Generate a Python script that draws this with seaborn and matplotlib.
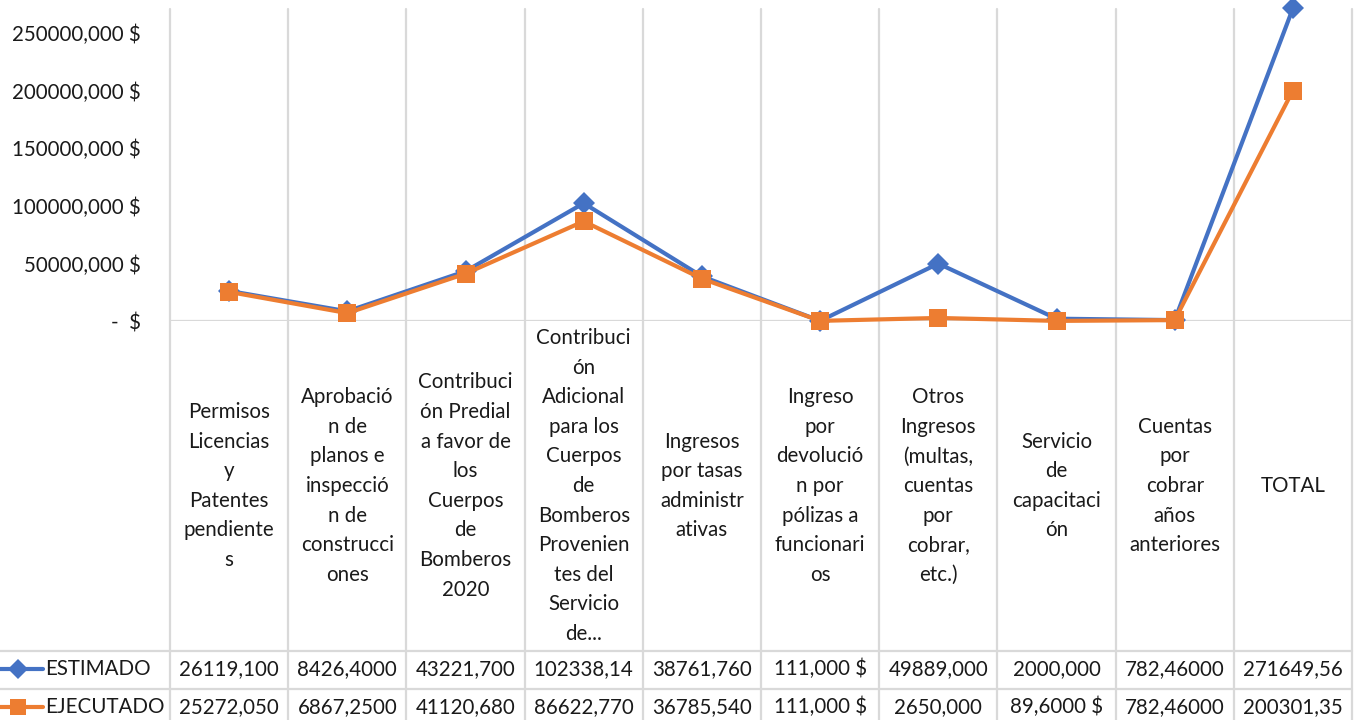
import numpy as np
import pandas as pd
import matplotlib
matplotlib.use("Agg")
import matplotlib.pyplot as plt
import matplotlib.transforms as mtransforms
import seaborn as sns

# datos del grafico
categorias = [
    "Permisos\nLicencias\ny\nPatentes\npendiente\ns",
    "Aprobació\nn de\nplanos e\ninspecció\nn de\nconstrucci\nones",
    "Contribuci\nón Predial\na favor de\nlos\nCuerpos\nde\nBomberos\n2020",
    "Contribuci\nón\nAdicional\npara los\nCuerpos\nde\nBomberos\nProvenien\ntes del\nServicio\nde...",
    "Ingresos\npor tasas\nadministr\nativas",
    "Ingreso\npor\ndevolució\nn por\npólizas a\nfuncionari\nos",
    "Otros\nIngresos\n(multas,\ncuentas\npor\ncobrar,\netc.)",
    "Servicio\nde\ncapacitaci\nón",
    "Cuentas\npor\ncobrar\naños\nanteriores",
    "TOTAL",
]
series = ["ESTIMADO", "EJECUTADO"]
estimado = [26119100, 8426400, 43221700, 102338140, 38761760, 111000, 49889000, 2000000, 782460, 271649560]
ejecutado = [25272050, 6867250, 41120680, 86622770, 36785540, 111000, 2650000, 89600, 782460, 200301350]
texto_estimado = ["26119,100", "8426,4000", "43221,700", "102338,14", "38761,760",
                  "111,000 $", "49889,000", "2000,000", "782,46000", "271649,56"]
texto_ejecutado = ["25272,050", "6867,2500", "41120,680", "86622,770", "36785,540",
                   "111,000 $", "2650,000", "89,6000 $", "782,46000", "200301,35"]
y_ticks = [0, 50000000, 100000000, 150000000, 200000000, 250000000]
y_labels = ["-  $", "50000,000 $", "100000,000 $", "150000,000 $", "200000,000 $", "250000,000 $"]

colores = {"ESTIMADO": "#4472C4", "EJECUTADO": "#ED7D31"}
marcadores = {"ESTIMADO": "D", "EJECUTADO": "s"}
tam_marcador = {"ESTIMADO": 11, "EJECUTADO": 13}
grid = "#D9D9D9"
txt = "#1a1a1a"

sns.set_style("white")
plt.rcParams["font.family"] = ["Lato", "DejaVu Sans"]
fs = 14.8

W, H = 1362, 720
fig = plt.figure(figsize=(W / 100, H / 100), dpi=100)
ax = fig.add_axes([170 / W, 1 - 321 / H, 1182 / W, 313 / H])

df = pd.DataFrame({
    "x": list(range(len(categorias))) * 2,
    "valor": estimado + ejecutado,
    "serie": [series[0]] * len(estimado) + [series[1]] * len(ejecutado),
})

for s in series:
    sns.lineplot(data=df[df["serie"] == s], x="x", y="valor", color=colores[s],
                 marker=marcadores[s], markersize=tam_marcador[s], markeredgewidth=0,
                 linewidth=3, sort=False, legend=False, ax=ax, zorder=3)
for ln in ax.lines:
    ln.set_clip_on(False)

ax.set_xlim(-0.5, len(categorias) - 0.5)
ax.set_ylim(0, 272000000)
ax.set_yticks(y_ticks)
ax.set_yticklabels(y_labels, fontsize=fs, color=txt)
ax.tick_params(axis="y", length=0, pad=21)
ax.set_xticks([])
ax.set_xlabel("")
ax.set_ylabel("")
for sp in ax.spines.values():
    sp.set_visible(False)

blend = mtransforms.blended_transform_factory(ax.transData, fig.transFigure)

def fy(py):
    return 1 - py / H

# lineas verticales de la cuadricula y la tabla
for b in np.arange(-0.5, len(categorias), 1):
    ax.plot([b, b], [fy(9), fy(725)], transform=blend, color=grid, lw=1.6,
            clip_on=False, zorder=0)
ax.axhline(0, color=grid, lw=1.6, zorder=0)
for py in [651, 689]:
    ax.plot([0, 1352 / W], [fy(py), fy(py)], transform=fig.transFigure, color=grid,
            lw=1.6, clip_on=False, zorder=0)

# etiquetas de categoria
for i, c in enumerate(categorias):
    ax.text(i, fy(486), c, transform=blend, ha="center", va="center",
            fontsize=fs, color=txt, linespacing=1.6, multialignment="center")

# tabla de datos
filas = {"ESTIMADO": (texto_estimado, 669), "EJECUTADO": (texto_ejecutado, 707)}
for s in series:
    textos, py = filas[s]
    ax.plot([0, 43 / W], [fy(py), fy(py)], transform=fig.transFigure, color=colores[s],
            lw=3, clip_on=False)
    ax.plot([18 / W], [fy(py)], transform=fig.transFigure, color=colores[s],
            marker=marcadores[s], markersize=tam_marcador[s] - 1, markeredgewidth=0,
            clip_on=False)
    ax.text(45 / W, fy(py), s, transform=fig.transFigure, ha="left", va="center",
            fontsize=fs, color=txt)
    for i, t in enumerate(textos):
        ax.text(i, fy(py), t, transform=blend, ha="center", va="center",
                fontsize=fs, color=txt)

fig.savefig("out.png", dpi=100, facecolor="white")
